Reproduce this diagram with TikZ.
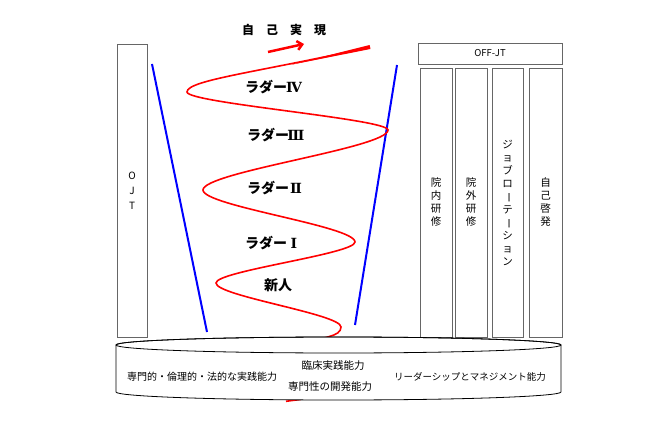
\documentclass[tikz,border=0pt]{standalone}
\usepackage{fontspec}
\setmainfont{Noto Sans CJK JP}
\newfontfamily\romanfont{DejaVu Serif}
\newcommand{\rnum}[1]{\makebox[1em]{\romanfont #1}}
\usetikzlibrary{arrows.meta}

\begin{document}
\begin{tikzpicture}[x=1pt,y=-1pt,
  box/.style={draw=black!60,line width=0.9pt,inner sep=0pt,align=center,
    font=\fontsize{10.5}{13}\selectfont},
  ladder/.style={font=\bfseries\fontsize{14}{16}\selectfont},
  base/.style={font=\fontsize{10.5}{12}\selectfont},
  spiral/.style={red,line width=1.6pt},
  wall/.style={blue,line width=2pt}]
\useasboundingbox (0,0) rectangle (650,443);
\node[box,minimum width=30pt,minimum height=293pt,font=\fontsize{10}{15}\selectfont] (ojt) at (132,190.5) {O\\J\\T};
\node[box,minimum width=144pt,minimum height=21pt,font=\fontsize{9.5}{10}\selectfont] (offjt) at (490,53.5) {OFF-JT};
\node[box,minimum width=32pt,minimum height=269pt] (innai) at (436,202.5) {院\\内\\研\\修};
\node[box,minimum width=32pt,minimum height=269pt] (ingai) at (471,202.5) {院\\外\\研\\修};
\node[box,minimum width=31pt,minimum height=269pt] (jobrot) at (507.5,202.5)
  {ジ\\ョ\\ブ\\ロ\\\rotatebox[origin=c]{-90}{ー}\\テ\\\rotatebox[origin=c]{-90}{ー}\\シ\\ョ\\ン};
\node[box,minimum width=33pt,minimum height=269pt] (jiko) at (545.5,202.5) {自\\己\\啓\\発};
\coordinate (wallLt) at (152,64);
\coordinate (wallLb) at (207,332);
\coordinate (wallRt) at (397,65);
\coordinate (wallRb) at (355,325);
\draw[wall] (wallLt) -- (wallLb);
\draw[wall] (wallRt) -- (wallRb);
\coordinate (s0) at (370,47);
\coordinate (l1) at (187,92);
\coordinate (r1) at (388,130);
\coordinate (l2) at (203,190);
\coordinate (r2) at (355,242);
\coordinate (l3) at (216,283);
\coordinate (r3) at (341,327);
\coordinate (s1) at (286,401.3);
\draw[spiral] (s0) .. controls (260,72) and (187,80) .. (l1)
  .. controls (187,103) and (388,119) .. (r1)
  .. controls (388,148) and (203,172) .. (l2)
  .. controls (203,206) and (355,226) .. (r2)
  .. controls (355,254) and (216,271) .. (l3)
  .. controls (216,296) and (341,314) .. (r3)
  .. controls (341,337) and (322,337) .. (306,343)
  .. controls (295,350) and (330,390) .. (300,399.5) -- (s1);
\fill[red] (290,65) -- (369.6,45) -- (370.4,49) -- cycle;
\coordinate (arrA) at (268,52);
\coordinate (arrB) at (304,44);
\draw[red,line width=2.5pt,-{Straight Barb[length=5pt,width=9pt]}] (arrA) -- (arrB);
\node[font=\bfseries\fontsize{12}{14}\selectfont] (goal) at (284,30) {自　己　実　現};
\node[ladder] (lad4) at (273,87) {ラダー\rnum{Ⅳ}};
\node[ladder] (lad3) at (275,135) {ラダー\rnum{Ⅲ}};
\node[ladder] (lad2) at (275,188) {ラダー\rnum{Ⅱ}};
\node[ladder] (lad1) at (273,243) {ラダー\rnum{Ⅰ}};
\node[ladder] (novice) at (278,285) {新人};
\filldraw[draw=black,fill=white,line width=0.8pt] (116,345) -- (116,392)
  arc[start angle=180,end angle=360,x radius=222.5pt,y radius=8pt] -- (561,345)
  arc[start angle=0,end angle=180,x radius=222.5pt,y radius=8pt] -- cycle;
\draw[line width=0.8pt] (338.5,345) ellipse[x radius=222.5pt,y radius=8pt];
\node[base] (clinic) at (333,366) {臨床実践能力};
\node[base] (profdev) at (330,387) {専門性の開発能力};
\node[base,font=\fontsize{10}{12}\selectfont] (ethics) at (202,377) {専門的・倫理的・法的な実践能力};
\node[base,font=\fontsize{9.5}{12}\selectfont] (leader) at (470,377) {リーダーシップとマネジメント能力};
\end{tikzpicture}
\end{document}
